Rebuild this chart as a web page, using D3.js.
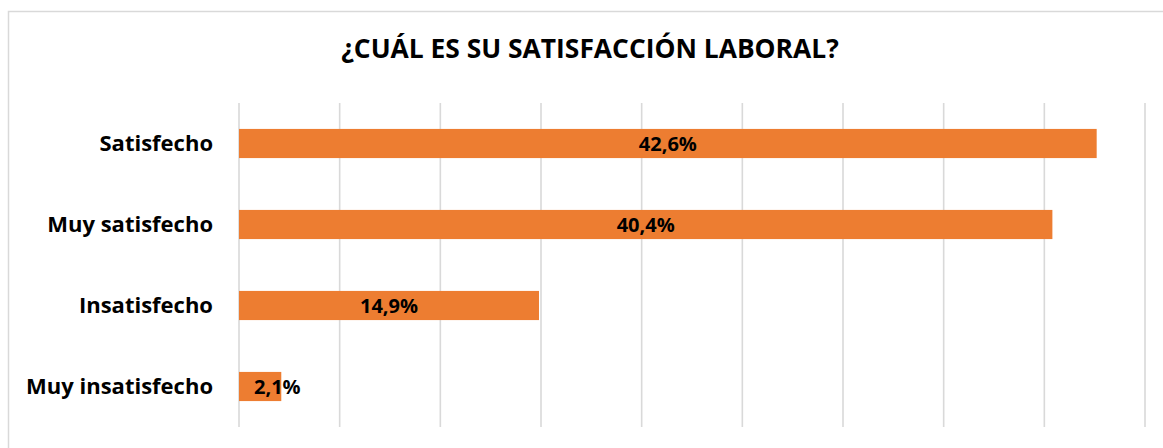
<!DOCTYPE html>
<html>
<head>
<meta charset="utf-8">
<script src="https://cdn.jsdelivr.net/npm/d3@7"></script>
<style>
  body { margin: 0; background: #fff; }
  svg text { font-family: "Open Sans", Lato, sans-serif; font-weight: bold; fill: #000; }
</style>
</head>
<body>
<div id="chart"></div>
<script>
// Chart data
const categories = ["Satisfecho", "Muy satisfecho", "Insatisfecho", "Muy insatisfecho"];
const values = [42.6, 40.4, 14.9, 2.1];
const labels = ["42,6%", "40,4%", "14,9%", "2,1%"];
const gridTicks = [0, 5, 10, 15, 20, 25, 30, 35, 40, 45];
const title = "¿CUÁL ES SU SATISFACCIÓN LABORAL?";

const W = 1163, H = 448;
const margin = { top: 103, left: 239, right: 18, bottom: 21 };

const svg = d3.select("#chart").append("svg")
    .attr("width", W)
    .attr("height", H);

// chart frame (runs off right/bottom edge like the original)
svg.append("rect")
    .attr("x", 8.5).attr("y", 11.5)
    .attr("width", 1170).attr("height", 460)
    .attr("fill", "#fff")
    .attr("stroke", "#d9d9d9")
    .attr("stroke-width", 1.5);

const x = d3.scaleLinear()
    .domain([0, 45])
    .range([margin.left, W - margin.right]);

const y = d3.scaleBand()
    .domain(categories)
    .range([margin.top, H - margin.bottom])
    .paddingInner(0.64)
    .paddingOuter(0.32);

// Title
svg.append("text")
    .attr("x", 590)
    .attr("y", 58)
    .attr("text-anchor", "middle")
    .style("font-size", "26.4px")
    .text(title);

// Vertical gridlines
svg.append("g")
    .selectAll("line")
    .data(gridTicks)
    .enter().append("line")
    .attr("x1", d => x(d)).attr("x2", d => x(d))
    .attr("y1", margin.top).attr("y2", H - margin.bottom)
    .attr("stroke", "#d9d9d9")
    .attr("stroke-width", 1.6);

// Bars
svg.append("g")
    .selectAll("rect")
    .data(values)
    .enter().append("rect")
    .attr("x", x(0))
    .attr("y", (d, i) => y(categories[i]))
    .attr("width", d => x(d) - x(0))
    .attr("height", y.bandwidth())
    .attr("fill", "#ed7d31");

// Category labels
svg.append("g")
    .selectAll("text")
    .data(categories)
    .enter().append("text")
    .attr("x", 213)
    .attr("y", d => y(d) + y.bandwidth() / 2)
    .attr("dy", "0.36em")
    .attr("text-anchor", "end")
    .style("font-size", "22px")
    .text(d => d);

// Value labels (inside centre, pushed right when bar is too short)
const vals = svg.append("g")
    .selectAll("text")
    .data(values)
    .enter().append("text")
    .attr("y", (d, i) => y(categories[i]) + y.bandwidth() / 2)
    .attr("dy", "0.36em")
    .style("font-size", "20px")
    .text((d, i) => labels[i]);

vals.each(function(d) {
    const tw = this.getComputedTextLength();
    const bw = x(d) - x(0);
    const t = d3.select(this);
    if (bw < tw + 10) {
        t.attr("x", x(0) + 15).attr("text-anchor", "start");
    } else {
        t.attr("x", x(0) + bw / 2).attr("text-anchor", "middle");
    }
});
</script>
</body>
</html>
